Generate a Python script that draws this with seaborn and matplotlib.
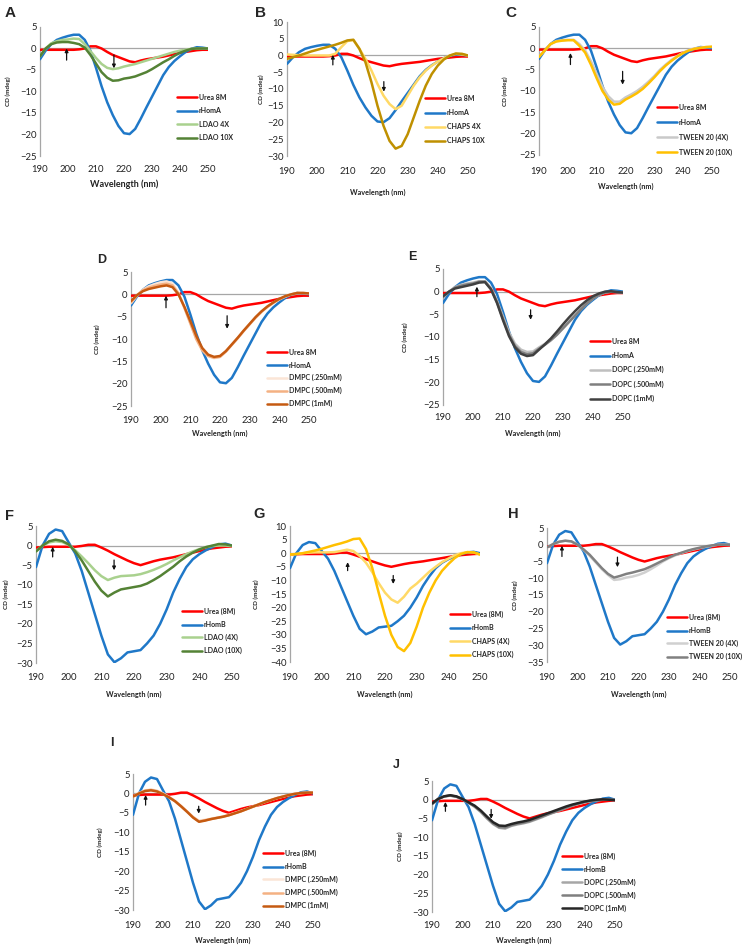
import matplotlib
matplotlib.use("Agg")
import matplotlib.pyplot as plt
import seaborn as sns
import pandas as pd
from matplotlib.lines import Line2D

sns.set_theme(style="white")
plt.rcParams['font.family'] = ['Lato', 'DejaVu Sans']

# ---------------- data (CD in mdeg, every 2 nm from 190 to 250) ----------------
wavelength = list(range(190, 252, 2))

urea_a = [-0.3, -0.3, -0.3, -0.3, -0.3, -0.3, -0.3, -0.2, 0.0, 0.5, 0.5, 0.0, -0.8, -1.5, -2.0, -2.5,
          -3.0, -3.2, -2.8, -2.5, -2.3, -2.1, -1.9, -1.6, -1.3, -1.0, -0.8, -0.6, -0.4, -0.3, -0.3]
rhoma = [-2.5, -0.5, 1.0, 2.0, 2.5, 2.9, 3.2, 3.2, 2.0, -0.5, -4.5, -8.8, -12.5, -15.5, -18.0, -19.7,
         -19.9, -18.7, -16.3, -13.7, -11.2, -8.7, -6.2, -4.3, -2.9, -1.8, -0.8, -0.1, 0.3, 0.2, 0.0]
ldao4x_a = [-1.8, 0.0, 1.2, 1.7, 2.0, 2.1, 2.3, 2.2, 1.0, -0.6, -2.2, -3.6, -4.5, -4.8, -4.6, -4.2,
            -3.9, -3.6, -3.2, -2.8, -2.4, -2.0, -1.6, -1.2, -0.8, -0.5, -0.3, -0.1, 0.0, 0.0, 0.0]
ldao10x_a = [-1.8, 0.0, 1.0, 1.4, 1.5, 1.5, 1.3, 1.0, 0.2, -1.5, -3.5, -5.5, -6.8, -7.5, -7.4, -7.0,
             -6.8, -6.5, -6.0, -5.5, -4.8, -4.0, -3.2, -2.5, -1.7, -1.0, -0.5, -0.1, 0.0, 0.0, 0.0]
chaps4x_a = [0.3, 0.2, 0.1, 0.0, 0.0, 0.0, 0.0, 0.0, 0.5, 2.5, 4.3, 4.6, 2.0, -1.0, -4.5, -8.5,
             -12.0, -14.5, -16.0, -15.0, -12.0, -9.0, -6.5, -4.5, -3.0, -1.8, -0.8, 0.0, 0.5, 0.3, 0.0]
chaps10x_a = [-1.0, -0.5, 0.0, 0.6, 1.2, 1.7, 2.2, 2.7, 3.2, 3.8, 4.5, 4.7, 2.0, -2.0, -8.0, -15.0,
              -21.0, -25.5, -27.8, -27.0, -23.5, -18.5, -13.5, -9.0, -5.5, -3.0, -1.2, 0.0, 0.6, 0.5, 0.0]
tween4x_a = [-2.0, -0.5, 1.0, 1.7, 1.9, 2.0, 2.0, 1.0, -0.5, -3.0, -6.0, -9.0, -11.2, -12.5, -12.5, -11.5,
             -10.8, -10.0, -9.0, -7.8, -6.5, -5.0, -3.8, -2.7, -1.8, -1.0, -0.4, 0.0, 0.2, 0.3, 0.3]
tween10x_a = [-2.0, -0.5, 1.0, 1.6, 1.8, 1.9, 1.9, 0.6, -1.0, -3.8, -7.0, -10.0, -12.0, -13.2, -13.0, -12.0,
              -11.3, -10.5, -9.5, -8.2, -6.8, -5.3, -4.0, -2.9, -1.9, -1.1, -0.5, -0.1, 0.1, 0.3, 0.4]
dmpc250_a = [-2.0, -0.3, 1.0, 1.8, 2.3, 2.7, 2.9, 2.4, 0.3, -3.0, -6.5, -10.0, -12.5, -13.8, -14.3, -14.0,
             -12.8, -11.3, -9.8, -8.2, -6.7, -5.2, -3.9, -2.8, -1.9, -1.1, -0.5, 0.0, 0.3, 0.3, 0.2]
dmpc500_a = [-1.8, -0.2, 0.9, 1.5, 1.9, 2.2, 2.4, 2.0, 0.2, -3.0, -6.5, -10.0, -12.5, -13.8, -14.2, -14.0,
             -12.8, -11.3, -9.8, -8.2, -6.7, -5.2, -3.9, -2.8, -1.9, -1.1, -0.5, 0.0, 0.3, 0.3, 0.2]
dmpc1_a = [-1.5, -0.2, 0.7, 1.2, 1.5, 1.8, 2.0, 1.6, 0.0, -2.8, -6.0, -9.3, -12.0, -13.5, -14.0, -13.8,
           -12.7, -11.2, -9.7, -8.1, -6.6, -5.1, -3.8, -2.7, -1.8, -1.0, -0.4, 0.0, 0.3, 0.3, 0.2]
dopc250_a = [-1.2, 0.0, 1.0, 1.5, 1.8, 2.0, 2.3, 2.3, 0.8, -2.0, -5.5, -9.0, -11.5, -12.8, -13.3, -13.2,
             -12.3, -11.5, -10.5, -9.3, -8.0, -6.6, -5.2, -3.8, -2.6, -1.5, -0.7, -0.2, 0.0, -0.1, -0.2]
dopc500_a = [-1.2, 0.0, 0.9, 1.3, 1.6, 1.8, 2.2, 2.2, 0.6, -2.3, -6.0, -9.5, -12.0, -13.3, -13.8, -13.6,
             -12.6, -11.7, -10.7, -9.5, -8.1, -6.7, -5.3, -3.9, -2.6, -1.5, -0.7, -0.2, 0.0, -0.1, -0.2]
dopc1_a = [-1.0, 0.0, 0.7, 1.0, 1.3, 1.6, 2.0, 2.1, 0.5, -2.5, -6.3, -9.8, -12.3, -13.7, -14.2, -14.0,
           -12.8, -11.6, -10.3, -8.8, -7.2, -5.7, -4.3, -3.0, -1.9, -1.0, -0.4, 0.0, 0.1, -0.1, -0.2]

urea_b = [-0.5, -0.4, -0.3, -0.3, -0.3, -0.3, -0.3, -0.1, 0.2, 0.2, -0.5, -1.3, -2.2, -3.0, -3.8, -4.5,
          -5.0, -4.5, -4.0, -3.6, -3.3, -3.0, -2.6, -2.2, -1.8, -1.4, -1.0, -0.7, -0.5, -0.3, -0.2]
rhomb = [-5.5, 0.0, 3.0, 4.1, 3.7, 0.8, -2.0, -6.5, -12.0, -17.5, -23.0, -27.8, -29.8, -28.8, -27.3, -27.0,
         -26.7, -25.0, -23.0, -20.0, -16.3, -12.0, -8.5, -5.5, -3.5, -2.2, -1.2, -0.4, 0.3, 0.5, 0.0]
ldao4x_b = [-1.5, 0.0, 0.8, 1.1, 0.9, 0.2, -1.2, -2.8, -4.5, -6.3, -7.8, -8.8, -8.2, -7.8, -7.7, -7.6,
            -7.3, -6.8, -6.2, -5.5, -4.7, -3.8, -3.0, -2.2, -1.5, -0.9, -0.4, -0.1, 0.0, 0.0, -0.1]
ldao10x_b = [-1.5, 0.0, 1.1, 1.5, 1.2, 0.3, -1.5, -3.8, -6.5, -9.2, -11.5, -13.0, -12.0, -11.2, -10.9, -10.6,
             -10.3, -9.7, -8.8, -7.8, -6.6, -5.4, -4.0, -2.8, -1.8, -1.0, -0.4, 0.0, 0.4, 0.3, 0.0]
chaps4x_b = [-0.5, -0.3, 0.0, 0.2, 0.3, 0.3, 0.3, 0.4, 0.8, 1.3, 0.8, -1.0, -3.5, -7.0, -11.0, -14.5,
             -17.0, -18.2, -16.0, -13.0, -11.2, -9.0, -6.8, -5.0, -3.3, -2.0, -0.8, 0.0, 0.4, 0.3, -0.5]
chaps10x_b = [-0.5, -0.3, 0.0, 0.5, 1.0, 1.6, 2.3, 3.0, 3.6, 4.3, 5.2, 5.4, 1.5, -5.5, -14.5, -23.0,
              -30.0, -34.5, -36.0, -33.0, -27.0, -20.0, -14.5, -10.0, -6.5, -4.0, -1.8, -0.3, 0.4, 0.3, -0.5]
tween4x_b = [-0.8, 0.2, 0.9, 1.2, 1.0, 0.0, -1.5, -3.3, -5.3, -7.3, -9.0, -10.5, -10.3, -9.8, -9.5, -9.0,
             -8.3, -7.3, -6.2, -5.0, -4.0, -3.2, -2.5, -1.9, -1.4, -1.0, -0.6, -0.3, 0.0, 0.0, 0.0]
tween10x_b = [-0.8, 0.2, 0.9, 1.2, 1.0, 0.0, -1.4, -3.0, -5.0, -7.0, -8.7, -9.8, -9.3, -8.7, -8.3, -7.8,
              -7.3, -6.5, -5.6, -4.7, -3.8, -3.0, -2.4, -1.8, -1.3, -0.9, -0.5, -0.2, 0.0, 0.0, 0.0]
dmpc250_b = [-0.8, 0.1, 0.8, 1.0, 0.7, 0.0, -0.9, -1.9, -3.2, -4.6, -6.0, -7.0, -6.8, -6.5, -6.2, -5.9,
             -5.5, -5.0, -4.5, -4.0, -3.4, -2.8, -2.2, -1.7, -1.2, -0.8, -0.4, -0.1, 0.1, 0.2, 0.2]
dmpc500_b = [-0.8, 0.0, 0.7, 0.9, 0.6, -0.1, -1.0, -2.0, -3.3, -4.7, -6.1, -7.2, -6.9, -6.6, -6.3, -6.0,
             -5.6, -5.1, -4.6, -4.0, -3.4, -2.8, -2.2, -1.7, -1.2, -0.8, -0.4, -0.1, 0.1, 0.2, 0.2]
dmpc1_b = [-0.8, 0.0, 0.6, 0.8, 0.5, -0.2, -1.0, -2.0, -3.3, -4.7, -6.2, -7.3, -7.0, -6.6, -6.3, -6.0,
           -5.6, -5.1, -4.6, -4.0, -3.4, -2.8, -2.2, -1.7, -1.2, -0.8, -0.4, -0.1, 0.1, 0.2, 0.2]
dopc250_b = [-1.2, 0.2, 0.9, 1.1, 0.8, 0.1, -0.8, -1.9, -3.3, -5.0, -6.5, -7.5, -7.7, -7.0, -6.6, -6.3,
             -5.9, -5.3, -4.7, -4.0, -3.4, -2.8, -2.2, -1.6, -1.1, -0.7, -0.4, -0.2, 0.0, 0.0, -0.1]
dopc500_b = [-1.2, 0.2, 0.9, 1.1, 0.8, 0.1, -0.8, -1.8, -3.1, -4.8, -6.3, -7.3, -7.4, -6.8, -6.4, -6.1,
             -5.7, -5.1, -4.5, -3.9, -3.3, -2.7, -2.1, -1.5, -1.0, -0.6, -0.3, -0.1, 0.0, 0.0, -0.1]
dopc1_b = [-1.0, 0.2, 0.9, 1.2, 0.9, 0.2, -0.7, -1.6, -2.9, -4.5, -6.0, -6.9, -7.0, -6.5, -6.1, -5.8,
           -5.4, -4.8, -4.2, -3.6, -3.0, -2.4, -1.8, -1.3, -0.9, -0.5, -0.2, 0.0, 0.1, 0.0, -0.1]

RED, BLUE = '#ff0000', '#1f78c8'

# panel: letter, series (label, values, colour), y ticks, arrows (x, tail, head)
panels = [
    dict(letter='A', series=[('Urea 8M', urea_a, RED), ('rHomA', rhoma, BLUE),
                             ('LDAO 4X', ldao4x_a, '#a9d18e'), ('LDAO 10X', ldao10x_a, '#548235')],
         yt=(5, -25), arrows=[(199.5, -2.7, 0.0), (216.4, -1.5, -4.6)]),
    dict(letter='B', series=[('Urea 8M', urea_a, RED), ('rHomA', rhoma, BLUE),
                             ('CHAPS 4X', chaps4x_a, '#ffd966'), ('CHAPS 10X', chaps10x_a, '#bf9000')],
         yt=(10, -30), arrows=[(205.2, -2.8, 0.2), (222.1, -7.8, -10.8)]),
    dict(letter='C', series=[('Urea 8M', urea_a, RED), ('rHomA', rhoma, BLUE),
                             ('TWEEN 20 (4X)', tween4x_a, '#c9c9c9'), ('TWEEN 20 (10X)', tween10x_a, '#ffc000')],
         yt=(5, -25), arrows=[(200.9, -3.8, -1.1), (219.0, -5.4, -8.5)]),
    dict(letter='D', series=[('Urea 8M', urea_a, RED), ('rHomA', rhoma, BLUE),
                             ('DMPC (.250mM)', dmpc250_a, '#fbe5d6'), ('DMPC (.500mM)', dmpc500_a, '#f4b183'),
                             ('DMPC (1mM)', dmpc1_a, '#c55a11')],
         yt=(5, -25), arrows=[(201.8, -3.0, -0.3), (222.4, -4.8, -7.7)]),
    dict(letter='E', series=[('Urea 8M', urea_a, RED), ('rHomA', rhoma, BLUE),
                             ('DOPC (.250mM)', dopc250_a, '#bfbfbf'), ('DOPC (.500mM)', dopc500_a, '#7f7f7f'),
                             ('DOPC (1mM)', dopc1_a, '#404040')],
         yt=(5, -25), arrows=[(201.3, -1.1, 1.1), (219.2, -4.0, -6.2)]),
    dict(letter='F', series=[('Urea (8M)', urea_b, RED), ('rHomB', rhomb, BLUE),
                             ('LDAO (4X)', ldao4x_b, '#a9d18e'), ('LDAO (10X)', ldao10x_b, '#548235')],
         yt=(5, -30), arrows=[(195.1, -2.9, -0.3), (213.9, -3.7, -6.3)]),
    dict(letter='G', series=[('Urea (8M)', urea_b, RED), ('rHomB', rhomb, BLUE),
                             ('CHAPS (4X)', chaps4x_b, '#ffd966'), ('CHAPS (10X)', chaps10x_b, '#ffc000')],
         yt=(10, -40), arrows=[(208.2, -6.4, -3.3), (222.6, -8.2, -11.3)]),
    dict(letter='H', series=[('Urea (8M)', urea_b, RED), ('rHomB', rhomb, BLUE),
                             ('TWEEN 20 (4X)', tween4x_b, '#d0d0d0'), ('TWEEN 20 (10X)', tween10x_b, '#808080')],
         yt=(5, -35), arrows=[(194.9, -3.5, -0.3), (213.1, -3.7, -6.7)]),
    dict(letter='I', series=[('Urea (8M)', urea_b, RED), ('rHomB', rhomb, BLUE),
                             ('DMPC (.250mM)', dmpc250_b, '#fbe5d6'), ('DMPC (.500mM)', dmpc500_b, '#f4b183'),
                             ('DMPC (1mM)', dmpc1_b, '#c55a11')],
         yt=(5, -30), arrows=[(194.2, -3.0, -0.4), (211.9, -3.3, -5.2)]),
    dict(letter='J', series=[('Urea (8M)', urea_b, RED), ('rHomB', rhomb, BLUE),
                             ('DOPC (.250mM)', dopc250_b, '#a6a6a6'), ('DOPC (.500mM)', dopc500_b, '#7f7f7f'),
                             ('DOPC (1mM)', dopc1_b, '#262626')],
         yt=(5, -30), arrows=[(194.4, -3.1, -0.6), (209.4, -2.6, -5.1)]),
]

# ---------------- layout (pixels in a 749 x 947 canvas) ----------------
W, H = 749, 947
# plot box: left, right, top, bottom ; letter (x, y, size) ; ylabel x ; xtick y ; xlabel y, size ; legend x, y0, pitch
layout = {
    'A': dict(box=(40, 208, 27, 156), let=(5, 6, 11), ylx=8, xty=170, xly=184, xls=6.5, leg=(177, 98, 14.5)),
    'B': dict(box=(287, 468, 22, 156), let=(255, 6, 11), ylx=261, xty=172, xly=192, xls=5.2, leg=(425, 99, 15.3)),
    'C': dict(box=(539, 712, 27, 155), let=(505, 6, 11), ylx=505, xty=172, xly=186, xls=5.2, leg=(657, 108, 16)),
    'D': dict(box=(131, 309, 272, 406), let=(97, 254, 9), ylx=97, xty=420, xly=433, xls=5.2, leg=(267, 353, 13.8)),
    'E': dict(box=(443, 623, 269, 405), let=(408, 251, 9), ylx=405, xty=418, xly=433, xls=5.2, leg=(590, 342, 15.3)),
    'F': dict(box=(36, 232, 526, 663), let=(5, 509, 10.5), ylx=6, xty=677, xly=694, xls=5.2, leg=(182, 612, 14)),
    'G': dict(box=(290, 480, 526, 662), let=(253, 507, 10.5), ylx=256, xty=677, xly=694, xls=5.2, leg=(450, 615, 14.3)),
    'H': dict(box=(547, 730, 528, 662), let=(508, 507, 10.5), ylx=515, xty=677, xly=694, xls=5.2, leg=(667, 618, 14)),
    'I': dict(box=(133, 313, 774, 910), let=(110, 737, 9), ylx=100, xty=925, xly=940, xls=5.2, leg=(263, 854, 14)),
    'J': dict(box=(432, 615, 781, 912), let=(393, 759, 9), ylx=400, xty=925, xly=940, xls=5.2, leg=(562, 857, 13.8)),
}

fig = plt.figure(figsize=(W / 100, H / 100), dpi=100)
fig.patch.set_facecolor('white')


def fx(x):
    return x / W


def fy(y):
    return 1 - y / H


LEG_FS = 5.0
for p in panels:
    L = layout[p['letter']]
    l, r, t, b = L['box']
    ax = fig.add_axes([fx(l), fy(b), (r - l) / W, (b - t) / H])
    ax.set_facecolor('none')
    handles = []
    for name, vals, col in p['series']:
        df = pd.DataFrame({'Wavelength (nm)': wavelength, 'CD (mdeg)': vals})
        sns.lineplot(data=df, x='Wavelength (nm)', y='CD (mdeg)', color=col, lw=1.8, ax=ax, zorder=3)
        handles.append(Line2D([0], [0], color=col, lw=1.8))
    ax.axhline(0, color='#a6a6a6', lw=0.9, zorder=1)
    top, bot = p['yt']
    ax.set_xlim(190, 250)
    ax.set_ylim(bot, top)
    ax.set_yticks(list(range(bot, top + 1, 5)))
    ax.set_xticks(list(range(190, 251, 10)))
    for s in ['top', 'right', 'bottom']:
        ax.spines[s].set_visible(False)
    ax.spines['left'].set_color('#a6a6a6')
    ax.spines['left'].set_linewidth(0.9)
    xpad = (L['xty'] - b - 4.5) * 0.72
    ax.tick_params(axis='x', length=0, pad=xpad, labelsize=6.8, colors='#222222')
    ax.tick_params(axis='y', length=0, pad=2.5, labelsize=6.8, colors='#222222')
    ax.set_xlabel('')
    ax.set_ylabel('')
    ax.grid(False)
    for xa, tail, head in p['arrows']:
        ax.annotate('', xy=(xa, head), xytext=(xa, tail),
                    arrowprops=dict(arrowstyle='-|>', color='#111111', lw=0.9, mutation_scale=5,
                                    shrinkA=0, shrinkB=0), zorder=5)
    # legend
    lx, ly0, pitch = L['leg']
    fs_px = LEG_FS * 100 / 72
    ax.legend(handles, [s[0] for s in p['series']], loc='upper left',
              bbox_to_anchor=(fx(lx), fy(ly0 - 4.2)), bbox_transform=fig.transFigure,
              frameon=False, fontsize=LEG_FS, handlelength=20 / fs_px, handletextpad=0.3,
              labelspacing=max((pitch - 8.1) / fs_px, 0.1), borderpad=0, borderaxespad=0,
              prop={'weight': 'bold', 'size': LEG_FS})
    # texts
    lx_, ly_, ls_ = L['let']
    fig.text(fx(lx_), fy(ly_), p['letter'], ha='left', va='top', fontsize=ls_,
             fontweight='bold', family=['Liberation Sans', 'DejaVu Sans'])
    fig.text(fx(L['ylx']), fy((t + b) / 2), 'CD (mdeg)', rotation=90, ha='center', va='center',
             fontsize=4.6, fontweight='bold', color='#222222')
    fig.text(fx((l + r) / 2), fy(L['xly']), 'Wavelength (nm)', ha='center', va='center',
             fontsize=L['xls'], fontweight='bold', color='#222222')

fig.savefig('out.png', dpi=100, facecolor='white')
